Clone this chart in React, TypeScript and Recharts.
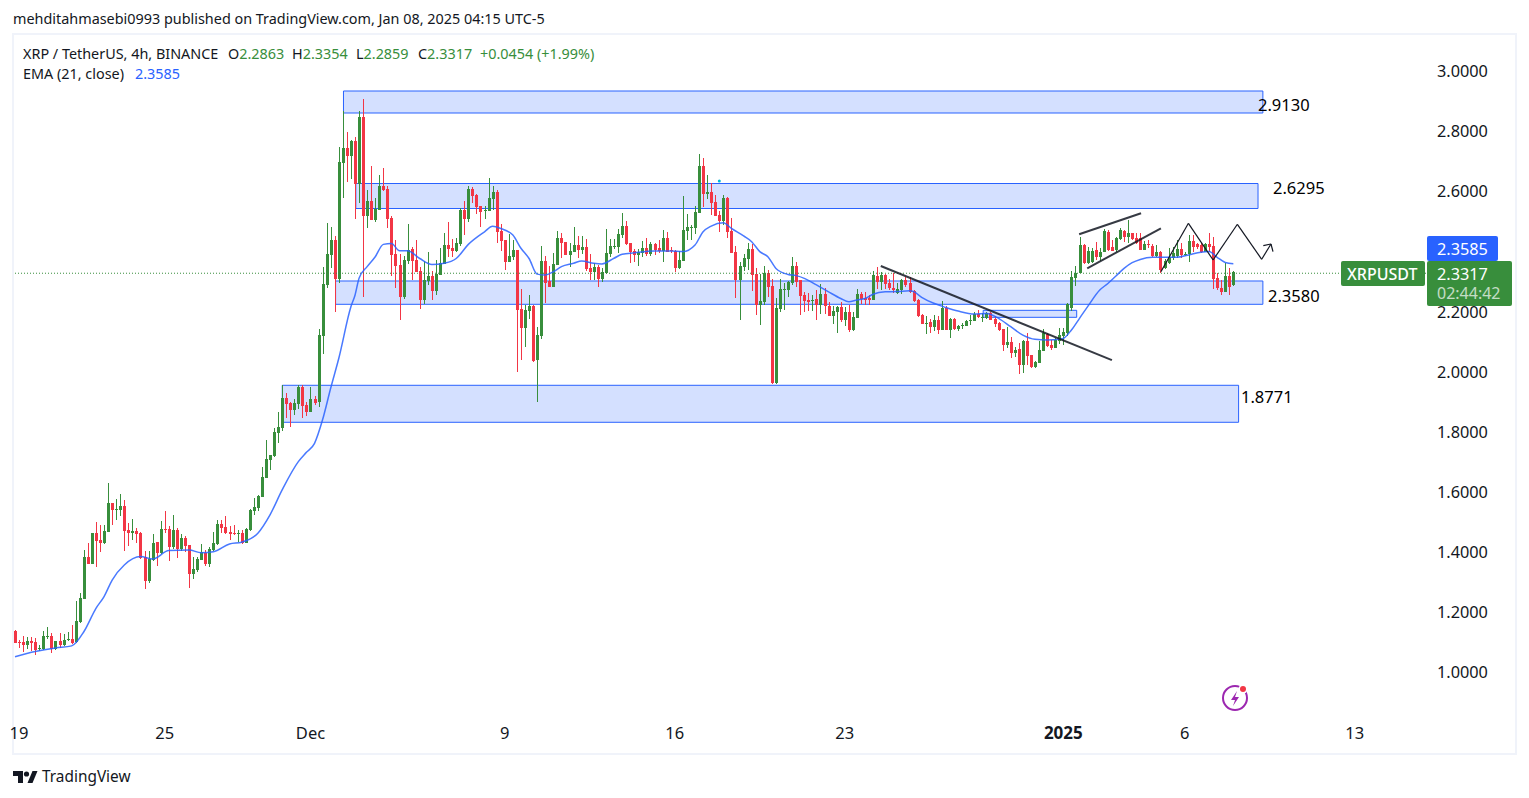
import {
  ComposedChart,
  Bar,
  Line,
  XAxis,
  YAxis,
  ReferenceArea,
  ReferenceLine,
  ReferenceDot,
} from "recharts";

const FONT = "'Noto Sans', sans-serif";
const GREEN = "#388e3c";
const RED = "#f23645";
const BLUE = "#2962ff";
const INK = "#131722";

// 4h candles, ten per line
const opens = [
  1.136,1.101,1.100,1.090,1.104,1.100,1.077,1.077,1.117,1.120,
  1.077,1.104,1.090,1.107,1.110,1.100,1.167,1.243,1.383,1.360,
  1.463,1.440,1.430,1.466,1.563,1.539,1.539,1.553,1.473,1.463,
  1.470,1.463,1.383,1.303,1.373,1.433,1.396,1.476,1.476,1.416,
  1.473,1.410,1.446,1.423,1.326,1.340,1.373,1.396,1.360,1.406,
  1.426,1.493,1.483,1.466,1.463,1.460,1.463,1.430,1.473,1.536,
  1.546,1.583,1.646,1.706,1.719,1.796,1.812,1.912,1.895,1.872,
  1.892,1.949,1.889,1.865,1.909,1.897,2.118,2.288,2.387,2.437,
  2.308,2.693,2.743,2.717,2.767,2.624,2.847,2.517,2.567,2.504,
  2.537,2.617,2.607,2.510,2.391,2.354,2.248,2.367,2.407,2.371,
  2.334,2.238,2.301,2.318,2.268,2.321,2.358,2.421,2.411,2.401,
  2.424,2.537,2.507,2.607,2.587,2.551,2.535,2.534,2.574,2.597,
  2.467,2.437,2.364,2.381,2.404,2.208,2.145,2.201,2.218,2.039,
  2.118,2.367,2.300,2.281,2.354,2.444,2.431,2.388,2.398,2.421,
  2.404,2.414,2.344,2.331,2.348,2.308,2.328,2.391,2.414,2.414,
  2.454,2.484,2.428,2.401,2.388,2.394,2.411,2.391,2.424,2.411,
  2.401,2.444,2.404,2.401,2.344,2.368,2.468,2.479,2.478,2.527,
  2.684,2.591,2.597,2.564,2.521,2.501,2.577,2.468,2.398,2.304,
  2.348,2.374,2.408,2.324,2.221,2.231,2.328,2.284,1.962,2.208,
  2.272,2.271,2.294,2.351,2.304,2.254,2.238,2.236,2.241,2.221,
  2.258,2.218,2.185,2.198,2.215,2.171,2.198,2.138,2.178,2.258,
  2.245,2.245,2.238,2.318,2.298,2.321,2.294,2.278,2.261,2.271,
  2.304,2.294,2.268,2.238,2.188,2.158,2.166,2.147,2.172,2.138,
  2.210,2.138,2.175,2.142,2.152,2.152,2.168,2.168,2.191,2.178,
  2.178,2.195,2.175,2.162,2.141,2.088,2.098,2.062,2.075,2.022,
  2.101,2.055,2.015,2.028,2.068,2.125,2.088,2.078,2.102,2.118,
  2.128,2.210,2.311,2.328,2.421,2.362,2.366,2.403,2.381,2.399,
  2.465,2.415,2.404,2.441,2.469,2.446,2.462,2.445,2.443,2.404,
  2.423,2.419,2.384,2.399,2.343,2.360,2.377,2.384,2.408,2.388,
  2.391,2.434,2.423,2.421,2.397,2.424,2.418,2.310,2.277,2.266,
  2.318,2.2863,
];

const highs = [
  1.140,1.107,1.120,1.117,1.117,1.113,1.089,1.137,1.150,1.130,
  1.104,1.130,1.127,1.133,1.157,1.237,1.263,1.406,1.430,1.463,
  1.499,1.490,1.490,1.629,1.563,1.576,1.593,1.573,1.496,1.509,
  1.479,1.466,1.403,1.403,1.460,1.433,1.503,1.536,1.486,1.523,
  1.480,1.460,1.453,1.423,1.383,1.383,1.426,1.406,1.416,1.466,
  1.506,1.506,1.519,1.486,1.490,1.473,1.473,1.480,1.543,1.579,
  1.590,1.682,1.772,1.722,1.812,1.865,1.955,1.929,1.899,1.909,
  1.955,1.955,1.899,1.949,1.919,2.141,2.348,2.494,2.481,2.451,
  2.747,2.867,2.797,2.770,2.780,2.867,2.906,2.604,2.684,2.577,
  2.654,2.677,2.617,2.517,2.437,2.391,2.384,2.491,2.414,2.437,
  2.348,2.367,2.397,2.334,2.371,2.411,2.461,2.497,2.441,2.444,
  2.544,2.567,2.617,2.614,2.590,2.551,2.551,2.644,2.617,2.604,
  2.491,2.437,2.457,2.437,2.404,2.274,2.221,2.254,2.221,2.148,
  2.417,2.384,2.351,2.394,2.467,2.461,2.431,2.428,2.481,2.451,
  2.451,2.441,2.391,2.361,2.354,2.344,2.474,2.441,2.441,2.474,
  2.527,2.501,2.428,2.408,2.408,2.434,2.444,2.431,2.428,2.438,
  2.471,2.464,2.414,2.404,2.401,2.584,2.524,2.488,2.551,2.724,
  2.710,2.654,2.627,2.587,2.534,2.587,2.581,2.511,2.418,2.364,
  2.391,2.428,2.424,2.344,2.324,2.351,2.338,2.308,2.245,2.308,
  2.294,2.301,2.381,2.364,2.304,2.265,2.261,2.255,2.270,2.291,
  2.278,2.231,2.218,2.218,2.231,2.215,2.221,2.198,2.274,2.265,
  2.265,2.255,2.335,2.348,2.331,2.324,2.308,2.328,2.294,2.308,
  2.314,2.314,2.271,2.240,2.190,2.186,2.174,2.188,2.186,2.235,
  2.218,2.177,2.177,2.155,2.163,2.172,2.188,2.199,2.205,2.194,
  2.199,2.197,2.185,2.166,2.141,2.147,2.116,2.082,2.094,2.105,
  2.127,2.055,2.035,2.101,2.141,2.127,2.105,2.110,2.145,2.145,
  2.229,2.336,2.350,2.449,2.425,2.413,2.410,2.430,2.412,2.475,
  2.470,2.438,2.449,2.476,2.471,2.504,2.462,2.460,2.460,2.435,
  2.436,2.424,2.420,2.401,2.376,2.410,2.415,2.437,2.429,2.399,
  2.454,2.454,2.429,2.429,2.429,2.462,2.449,2.327,2.304,2.362,
  2.343,2.3354,
];

const lows = [
  1.098,1.081,1.068,1.076,1.070,1.055,1.071,1.074,1.110,1.063,
  1.074,1.080,1.087,1.103,1.094,1.097,1.163,1.243,1.360,1.360,
  1.350,1.400,1.426,1.466,1.489,1.506,1.519,1.403,1.420,1.440,
  1.430,1.376,1.276,1.296,1.370,1.353,1.393,1.463,1.370,1.410,
  1.380,1.403,1.400,1.280,1.310,1.333,1.373,1.353,1.350,1.403,
  1.423,1.463,1.460,1.440,1.456,1.433,1.426,1.430,1.470,1.523,
  1.536,1.583,1.646,1.672,1.716,1.762,1.802,1.845,1.816,1.855,
  1.875,1.845,1.852,1.865,1.889,1.883,2.058,2.278,2.343,2.199,
  2.294,2.577,2.630,2.640,2.507,2.560,2.248,2.477,2.504,2.497,
  2.537,2.600,2.477,2.318,2.278,2.171,2.241,2.358,2.304,2.331,
  2.208,2.224,2.288,2.238,2.254,2.321,2.358,2.381,2.381,2.397,
  2.417,2.454,2.497,2.560,2.524,2.481,2.507,2.534,2.537,2.427,
  2.401,2.338,2.364,2.371,1.998,2.038,2.082,2.175,2.032,1.900,
  2.108,2.228,2.281,2.281,2.354,2.378,2.388,2.348,2.398,2.378,
  2.391,2.334,2.304,2.304,2.281,2.298,2.324,2.381,2.408,2.394,
  2.444,2.421,2.361,2.364,2.351,2.381,2.384,2.384,2.388,2.394,
  2.364,2.398,2.394,2.331,2.341,2.368,2.438,2.438,2.458,2.527,
  2.547,2.574,2.521,2.517,2.464,2.487,2.444,2.394,2.245,2.171,
  2.334,2.338,2.268,2.188,2.155,2.221,2.248,1.958,1.958,2.198,
  2.205,2.248,2.288,2.281,2.188,2.198,2.201,2.201,2.173,2.191,
  2.191,2.185,2.158,2.128,2.165,2.151,2.131,2.135,2.178,2.224,
  2.221,2.221,2.238,2.274,2.271,2.274,2.271,2.261,2.258,2.258,
  2.281,2.261,2.231,2.180,2.158,2.125,2.129,2.136,2.125,2.138,
  2.138,2.112,2.138,2.135,2.142,2.150,2.155,2.168,2.177,2.166,
  2.175,2.173,2.147,2.135,2.069,2.079,2.046,2.047,1.993,1.995,
  2.022,2.012,2.010,2.028,2.068,2.083,2.072,2.078,2.092,2.088,
  2.118,2.201,2.285,2.328,2.358,2.358,2.360,2.370,2.368,2.399,
  2.400,2.400,2.398,2.437,2.432,2.427,2.437,2.423,2.404,2.403,
  2.410,2.380,2.380,2.327,2.340,2.358,2.372,2.378,2.377,2.384,
  2.365,2.399,2.407,2.393,2.397,2.399,2.275,2.271,2.255,2.266,
  2.255,2.2859,
];

const closes = [
  1.098,1.098,1.090,1.104,1.097,1.073,1.080,1.120,1.120,1.077,
  1.104,1.090,1.107,1.110,1.097,1.170,1.247,1.383,1.360,1.463,
  1.436,1.430,1.470,1.563,1.539,1.543,1.553,1.470,1.463,1.470,
  1.460,1.380,1.303,1.376,1.430,1.396,1.476,1.473,1.416,1.473,
  1.410,1.446,1.420,1.326,1.343,1.376,1.400,1.360,1.410,1.430,
  1.493,1.480,1.463,1.460,1.460,1.462,1.430,1.476,1.539,1.549,
  1.586,1.649,1.709,1.722,1.799,1.816,1.912,1.892,1.872,1.895,
  1.949,1.885,1.865,1.909,1.895,2.121,2.291,2.391,2.437,2.308,
  2.697,2.743,2.717,2.767,2.624,2.847,2.517,2.567,2.504,2.540,
  2.617,2.604,2.507,2.387,2.351,2.248,2.371,2.404,2.367,2.331,
  2.238,2.304,2.318,2.268,2.324,2.361,2.421,2.407,2.401,2.427,
  2.537,2.507,2.607,2.584,2.547,2.531,2.537,2.577,2.597,2.464,
  2.434,2.364,2.384,2.404,2.204,2.145,2.204,2.218,2.035,2.121,
  2.367,2.294,2.281,2.358,2.444,2.428,2.388,2.401,2.421,2.404,
  2.414,2.341,2.331,2.348,2.308,2.331,2.394,2.418,2.418,2.458,
  2.484,2.424,2.398,2.388,2.398,2.411,2.391,2.424,2.404,2.401,
  2.444,2.398,2.401,2.344,2.371,2.471,2.481,2.481,2.531,2.684,
  2.591,2.597,2.561,2.517,2.501,2.577,2.464,2.394,2.304,2.351,
  2.378,2.408,2.321,2.221,2.235,2.328,2.281,1.961,2.211,2.275,
  2.275,2.298,2.351,2.298,2.251,2.234,2.231,2.238,2.221,2.258,
  2.218,2.185,2.201,2.215,2.171,2.198,2.138,2.181,2.258,2.241,
  2.238,2.238,2.321,2.298,2.321,2.291,2.278,2.271,2.274,2.304,
  2.288,2.264,2.234,2.186,2.158,2.163,2.147,2.172,2.138,2.210,
  2.138,2.175,2.140,2.152,2.155,2.168,2.172,2.191,2.180,2.182,
  2.195,2.173,2.158,2.138,2.088,2.098,2.062,2.072,2.022,2.101,
  2.052,2.015,2.032,2.072,2.128,2.085,2.078,2.105,2.121,2.131,
  2.225,2.313,2.328,2.421,2.360,2.402,2.400,2.381,2.398,2.469,
  2.404,2.402,2.445,2.471,2.446,2.462,2.440,2.429,2.404,2.424,
  2.420,2.384,2.397,2.338,2.368,2.382,2.393,2.408,2.388,2.391,
  2.434,2.415,2.415,2.397,2.424,2.413,2.307,2.277,2.264,2.318,
  2.282,2.3317,
];

// EMA at these bars
const emaBars = [
  0,5,10,14,17,20,22,24,27,31,34,38,43,46,49,53,56,60,63,66,70,72,74,76,78,80,83,84,85,87,
  89,91,93,95,97,100,103,106,109,112,116,118,120,123,125,127,129,131,133,135,138,140,143,145,148,150,153,158,162,165,
  168,170,172,175,177,180,182,184,186,188,191,193,195,198,201,204,206,208,210,212,215,218,221,222,224,227,230,233,237,240,
  243,246,249,252,255,258,259,261,263,265,268,270,272,274,276,278,281,284,287,290,293,295,297,299,301,
];
const emaValues = [
  1.051,1.068,1.080,1.087,1.134,1.212,1.251,1.306,1.356,1.384,1.376,1.404,1.406,1.397,1.400,1.426,1.432,1.462,1.523,1.606,1.700,1.731,1.761,1.840,1.945,2.044,2.216,2.254,2.310,2.349,
  2.382,2.423,2.426,2.402,2.402,2.376,2.356,2.360,2.376,2.423,2.465,2.483,2.476,2.454,2.410,2.376,2.324,2.321,2.332,2.349,2.360,2.368,2.360,2.358,2.377,2.390,2.395,2.401,2.401,2.399,
  2.421,2.465,2.484,2.495,2.476,2.451,2.432,2.399,2.382,2.343,2.323,2.319,2.310,2.288,2.265,2.243,2.232,2.238,2.243,2.257,2.265,2.266,2.269,2.266,2.247,2.227,2.213,2.201,2.191,2.193,
  2.177,2.149,2.121,2.107,2.105,2.107,2.110,2.138,2.177,2.216,2.271,2.293,2.318,2.343,2.362,2.373,2.380,2.380,2.380,2.388,2.397,2.399,2.380,2.363,2.3585,
];

const priceTicks = [1, 1.2, 1.4, 1.6, 1.8, 2, 2.2, 2.6, 2.8, 3];
const dateTicks = [1, 37, 73, 121, 163, 205, 259, 289, 331];
const dateLabels = ["19", "25", "Dec", "9", "16", "23", "2025", "6", "13"];
const lastPriceLevel = 2.327;

// zones: [first bar, last bar, bottom price, top price]
const zones = [
  [81.15, 308.3, 2.8602, 2.9334],
  [84.2, 307.1, 2.5424, 2.6256],
  [79.2, 308.3, 2.2236, 2.3012],
  [66.03, 302.3, 1.831, 1.9541],
  [239.2, 262.3, 2.1803, 2.2036],
];

// drawn lines: [bar, price, bar, price]
const trendLines = [
  [213.9, 2.351, 271, 2.038],
  [262.9, 2.4566, 278.2, 2.5264],
  [264.9, 2.3434, 283.1, 2.4765],
];
const pathLines = [
  [283.1, 2.3321, 289.9, 2.4932],
  [289.9, 2.4932, 296, 2.3711],
  [296, 2.3711, 302, 2.4899],
  [302, 2.4899, 308, 2.3734],
  [308, 2.3734, 310.3, 2.4243],
  [310.3, 2.4243, 308.4, 2.4186],
  [310.3, 2.4243, 310.8, 2.3987],
];

const rows = opens.map((open, i) => {
  const at = emaBars.indexOf(i);
  return {
    bar: i,
    open,
    close: closes[i],
    range: [lows[i], highs[i]],
    ema: at >= 0 ? emaValues[at] : null,
  };
});

const Candle = (props: any) => {
  const { x, y, width, height, payload } = props;
  const [low, high] = payload.range;
  const perPrice = height / (high - low);
  const cx = Math.floor(x + width / 2);
  const top = Math.round(y + (high - Math.max(payload.open, payload.close)) * perPrice);
  const bottom = Math.round(y + (high - Math.min(payload.open, payload.close)) * perPrice);
  const wickTop = Math.round(y);
  const color = payload.close >= payload.open ? GREEN : RED;
  return (
    <g shapeRendering="crispEdges">
      <rect x={cx} y={wickTop} width={1} height={Math.round(y + height) - wickTop} fill={color} />
      <rect x={cx - 1} y={top} width={3} height={Math.max(bottom - top, 1)} fill={color} />
    </g>
  );
};

const DateTick = (props: any) => {
  const { x, y, payload } = props;
  const i = dateTicks.indexOf(payload.value);
  const label = dateLabels[i];
  return (
    <text
      x={x}
      y={y}
      dy={8}
      textAnchor="middle"
      fontFamily={FONT}
      fontSize={label === "2025" ? 17 : 16.5}
      fontWeight={label === "2025" ? 700 : 400}
      fill={INK}
    >
      {label}
    </text>
  );
};

const Txt = (props: any) => (
  <div
    style={{
      position: "absolute",
      left: props.x,
      top: props.y,
      color: props.color || INK,
      fontSize: props.size || 14.4,
      fontWeight: props.weight || 400,
      lineHeight: "20px",
      whiteSpace: "nowrap",
      fontFamily: FONT,
      opacity: props.opacity,
    }}
  >
    {props.children}
  </div>
);

const Box = (props: any) => (
  <div
    style={{
      position: "absolute",
      left: props.x,
      top: props.y,
      width: props.w,
      height: props.h,
      background: props.bg,
      borderRadius: 2,
    }}
  />
);

export default function App() {
  return (
    <div style={{ position: "absolute", left: 0, top: 0, width: 1529, height: 798, background: "#fff", overflow: "hidden" }}>
      <Txt x={13} y={9}>mehditahmasebi0993 published on TradingView.com, Jan 08, 2025 04:15 UTC-5</Txt>
      <div style={{ position: "absolute", left: 12, top: 33, width: 1501, height: 718, border: "2px solid #f0f3fa" }} />

      <div style={{ position: "absolute", left: 0, top: 0 }}>
        <ComposedChart
          width={1529}
          height={798}
          data={rows}
          margin={{ top: 35, right: 0, bottom: 44, left: 14 }}
        >
          <XAxis
            dataKey="bar"
            type="number"
            domain={[-0.25, 348.6]}
            allowDataOverflow
            ticks={dateTicks}
            interval={0}
            height={39}
            axisLine={false}
            tickLine={false}
            tickMargin={10}
            tick={<DateTick />}
          />
          <YAxis
            orientation="right"
            type="number"
            domain={[0.8569, 3.1198]}
            allowDataOverflow
            ticks={priceTicks}
            interval={0}
            width={103}
            axisLine={false}
            tickLine={false}
            tickMargin={5}
            tickFormatter={(v: number) => v.toFixed(4)}
            tick={{ fill: INK, fontSize: 16.3, fontFamily: FONT, dy: 0.5 }}
          />
          {zones.map((z, i) => (
            <ReferenceArea
              key={i}
              x1={z[0]}
              x2={z[1]}
              y1={z[2]}
              y2={z[3]}
              fill={BLUE}
              fillOpacity={0.2}
              stroke={BLUE}
              strokeWidth={1}
              strokeOpacity={1}
            />
          ))}
          <ReferenceLine y={lastPriceLevel} stroke={GREEN} strokeDasharray="1 2" />
          <Bar dataKey="range" barSize={3} shape={<Candle />} isAnimationActive={false} />
          <Line
            dataKey="ema"
            type="monotone"
            connectNulls
            dot={false}
            stroke={BLUE}
            strokeWidth={1.5}
            strokeOpacity={0.85}
            isAnimationActive={false}
          />
          {trendLines.map((l, i) => (
            <ReferenceLine
              key={i}
              segment={[{ x: l[0], y: l[1] }, { x: l[2], y: l[3] }]}
              stroke={INK}
              strokeWidth={2}
              strokeOpacity={0.85}
            />
          ))}
          {pathLines.map((l, i) => (
            <ReferenceLine
              key={i}
              segment={[{ x: l[0], y: l[1] }, { x: l[2], y: l[3] }]}
              stroke={INK}
              strokeWidth={1.2}
            />
          ))}
          <ReferenceDot x={174} y={2.634} r={1.5} fill="#00bcd4" stroke="none" />
        </ComposedChart>
      </div>

      <Txt x={23} y={44}>XRP / TetherUS, 4h, BINANCE</Txt>
      <Txt x={228} y={44}>O<span style={{ color: GREEN }}>2.2863</span></Txt>
      <Txt x={292} y={44}>H<span style={{ color: GREEN }}>2.3354</span></Txt>
      <Txt x={356} y={44}>L<span style={{ color: GREEN }}>2.2859</span></Txt>
      <Txt x={418} y={44}>C<span style={{ color: GREEN }}>2.3317</span></Txt>
      <Txt x={480} y={44} color={GREEN}>+0.0454 (+1.99%)</Txt>
      <Txt x={23} y={64}>EMA (21, close)</Txt>
      <Txt x={135} y={64} color={BLUE}>2.3585</Txt>

      <Txt x={1258} y={95} size={16.5} color="#000">2.9130</Txt>
      <Txt x={1273} y={178} size={16.5} color="#000">2.6295</Txt>
      <Txt x={1268} y={286} size={16.5} color="#000">2.3580</Txt>
      <Txt x={1241} y={387} size={16.5} color="#000">1.8771</Txt>

      <Box x={1341} y={261} w={84} h={25} bg={GREEN} />
      <Box x={1427} y={236} w={71} h={25} bg={BLUE} />
      <Box x={1427} y={261} w={85} h={45} bg={GREEN} />
      <Txt x={1347} y={264} size={16} color="#fff" weight={500}>XRPUSDT</Txt>
      <Txt x={1437} y={239} size={16.3} color="#fff">2.3585</Txt>
      <Txt x={1437} y={264} size={16.3} color="#fff">2.3317</Txt>
      <Txt x={1437} y={283} size={16} color="#fff" opacity={0.7}>02:44:42</Txt>

      <svg style={{ position: "absolute", left: 1220, top: 683 }} width={30} height={30}>
        <circle cx={15} cy={15} r={12} fill="none" stroke="#9c27b0" strokeWidth={2} />
        <path d="M17 8 L11 17 H15 L13 23 L19 14 H15 Z" fill="#9c27b0" />
        <circle cx={23} cy={6} r={4.5} fill="#fff" />
        <circle cx={23} cy={6} r={3} fill={RED} />
      </svg>

      <svg style={{ position: "absolute", left: 13, top: 771 }} width={25} height={13}>
        <path d="M0 0 H10 V12 H5 V5 H0 Z" fill={INK} />
        <circle cx={13.5} cy={3} r={2.6} fill={INK} />
        <path d="M14.5 12 L19.5 0 H24.5 L19.5 12 Z" fill={INK} />
      </svg>
      <Txt x={42} y={767} size={15.4}>TradingView</Txt>
    </div>
  );
}
